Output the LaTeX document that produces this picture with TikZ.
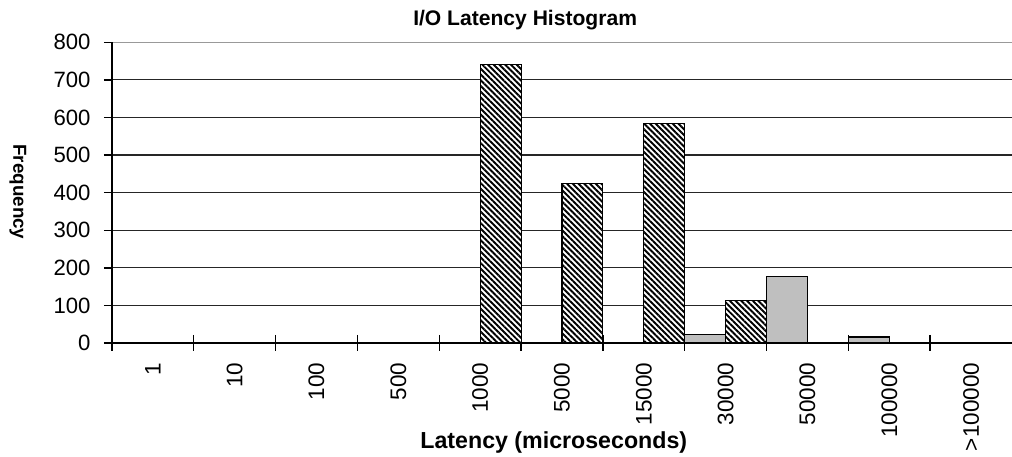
\documentclass[tikz,border=0pt]{standalone}
\usepackage{fontspec}
\setmainfont{Liberation Sans}
\usepackage{tikz}
\usetikzlibrary{patterns.meta}
\tikzstyle{anno} = [font=\fontsize{12}{14}\selectfont\bfseries, inner sep=0pt]
\tikzstyle{yticklabel} = [font=\fontsize{12.6}{14}\selectfont, inner sep=0pt, anchor=east]
\tikzstyle{xticklabel} = [font=\fontsize{12.8}{14}\selectfont, inner sep=0pt, anchor=east, rotate=90]
\tikzstyle{gridline} = [line width=0.65pt, draw=black!85]
\tikzstyle{axisline} = [line width=0.8pt, draw=black]
\tikzstyle{graybar} = [line width=0.6pt, draw=black, fill=black!25]
\tikzstyle{hatchbar} = [line width=0.6pt, draw=black, preaction={fill=white}, pattern={Lines[angle=-45, distance=2.3pt, line width=1.1pt]}]

\begin{document}
\begin{tikzpicture}[x=1.637cm, y=0.007526cm]
\useasboundingbox (-1.368,-302.2) rectangle (11,912.3);
% grid
\draw[gridline, draw=black!40] (0,800) -- (11,800);
\draw[gridline] (0,700) -- (11,700);
\draw[gridline] (0,600) -- (11,600);
\draw[gridline] (0,500) -- (11,500);
\draw[gridline] (0,400) -- (11,400);
\draw[gridline] (0,300) -- (11,300);
\draw[gridline] (0,200) -- (11,200);
\draw[gridline] (0,100) -- (11,100);
% axes and ticks
\draw[axisline] (0,0) -- (0,800);
\draw[axisline] (0,0) -- (11,0);
\draw[axisline] (-0.098,0) -- (0,0) (-0.098,100) -- (0,100) (-0.098,200) -- (0,200)
  (-0.098,300) -- (0,300) (-0.098,400) -- (0,400) (-0.098,500) -- (0,500)
  (-0.098,600) -- (0,600) (-0.098,700) -- (0,700) (-0.098,800) -- (0,800);
\draw[axisline] (0,22) -- (0,-21) (1,22) -- (1,-21) (2,22) -- (2,-21) (3,22) -- (3,-21)
  (4,22) -- (4,-21) (5,22) -- (5,-21) (6,22) -- (6,-21) (7,22) -- (7,-21)
  (8,22) -- (8,-21) (9,22) -- (9,-21) (10,22) -- (10,-21);
% bars
\draw[hatchbar] (4.5,0) rectangle (5,740);
\draw[hatchbar] (5.5,0) rectangle (6,425);
\draw[hatchbar] (6.5,0) rectangle (7,585);
\draw[graybar] (7,0) rectangle (7.5,22);
\draw[hatchbar] (7.5,0) rectangle (8,112);
\draw[graybar] (8,0) rectangle (8.5,177);
\draw[graybar] (9,0) rectangle (9.5,16);
% y labels
  \node (y0) [yticklabel] at (-0.257,0) {0};
  \node (y100) [yticklabel] at (-0.257,100) {100};
  \node (y200) [yticklabel] at (-0.257,200) {200};
  \node (y300) [yticklabel] at (-0.257,300) {300};
  \node (y400) [yticklabel] at (-0.257,400) {400};
  \node (y500) [yticklabel] at (-0.257,500) {500};
  \node (y600) [yticklabel] at (-0.257,600) {600};
  \node (y700) [yticklabel] at (-0.257,700) {700};
  \node (y800) [yticklabel] at (-0.257,800) {800};
% x labels
  \node (x1) [xticklabel] at (0.5,-52) {1};
  \node (x10) [xticklabel] at (1.5,-52) {10};
  \node (x100) [xticklabel] at (2.5,-52) {100};
  \node (x500) [xticklabel] at (3.5,-52) {500};
  \node (x1000) [xticklabel] at (4.5,-52) {1000};
  \node (x5000) [xticklabel] at (5.5,-52) {5000};
  \node (x15000) [xticklabel] at (6.5,-52) {15000};
  \node (x30000) [xticklabel] at (7.5,-52) {30000};
  \node (x50000) [xticklabel] at (8.5,-52) {50000};
  \node (x100000) [xticklabel] at (9.5,-52) {100000};
  \node (xmore) [xticklabel] at (10.5,-52) {>100000};
% titles
  \node (title) [anno, anchor=base] at (5.05,844.5) {I/O Latency Histogram};
  \node (freq) [anno, font=\fontsize{10.7}{12}\selectfont\bfseries, rotate=-90] at (-1.148,402) {Frequency};
  \node (xtitle) [anno, font=\fontsize{13.2}{15}\selectfont\bfseries, anchor=base] at (5.40,-281) {Latency (microseconds)};
\end{tikzpicture}
\end{document}
